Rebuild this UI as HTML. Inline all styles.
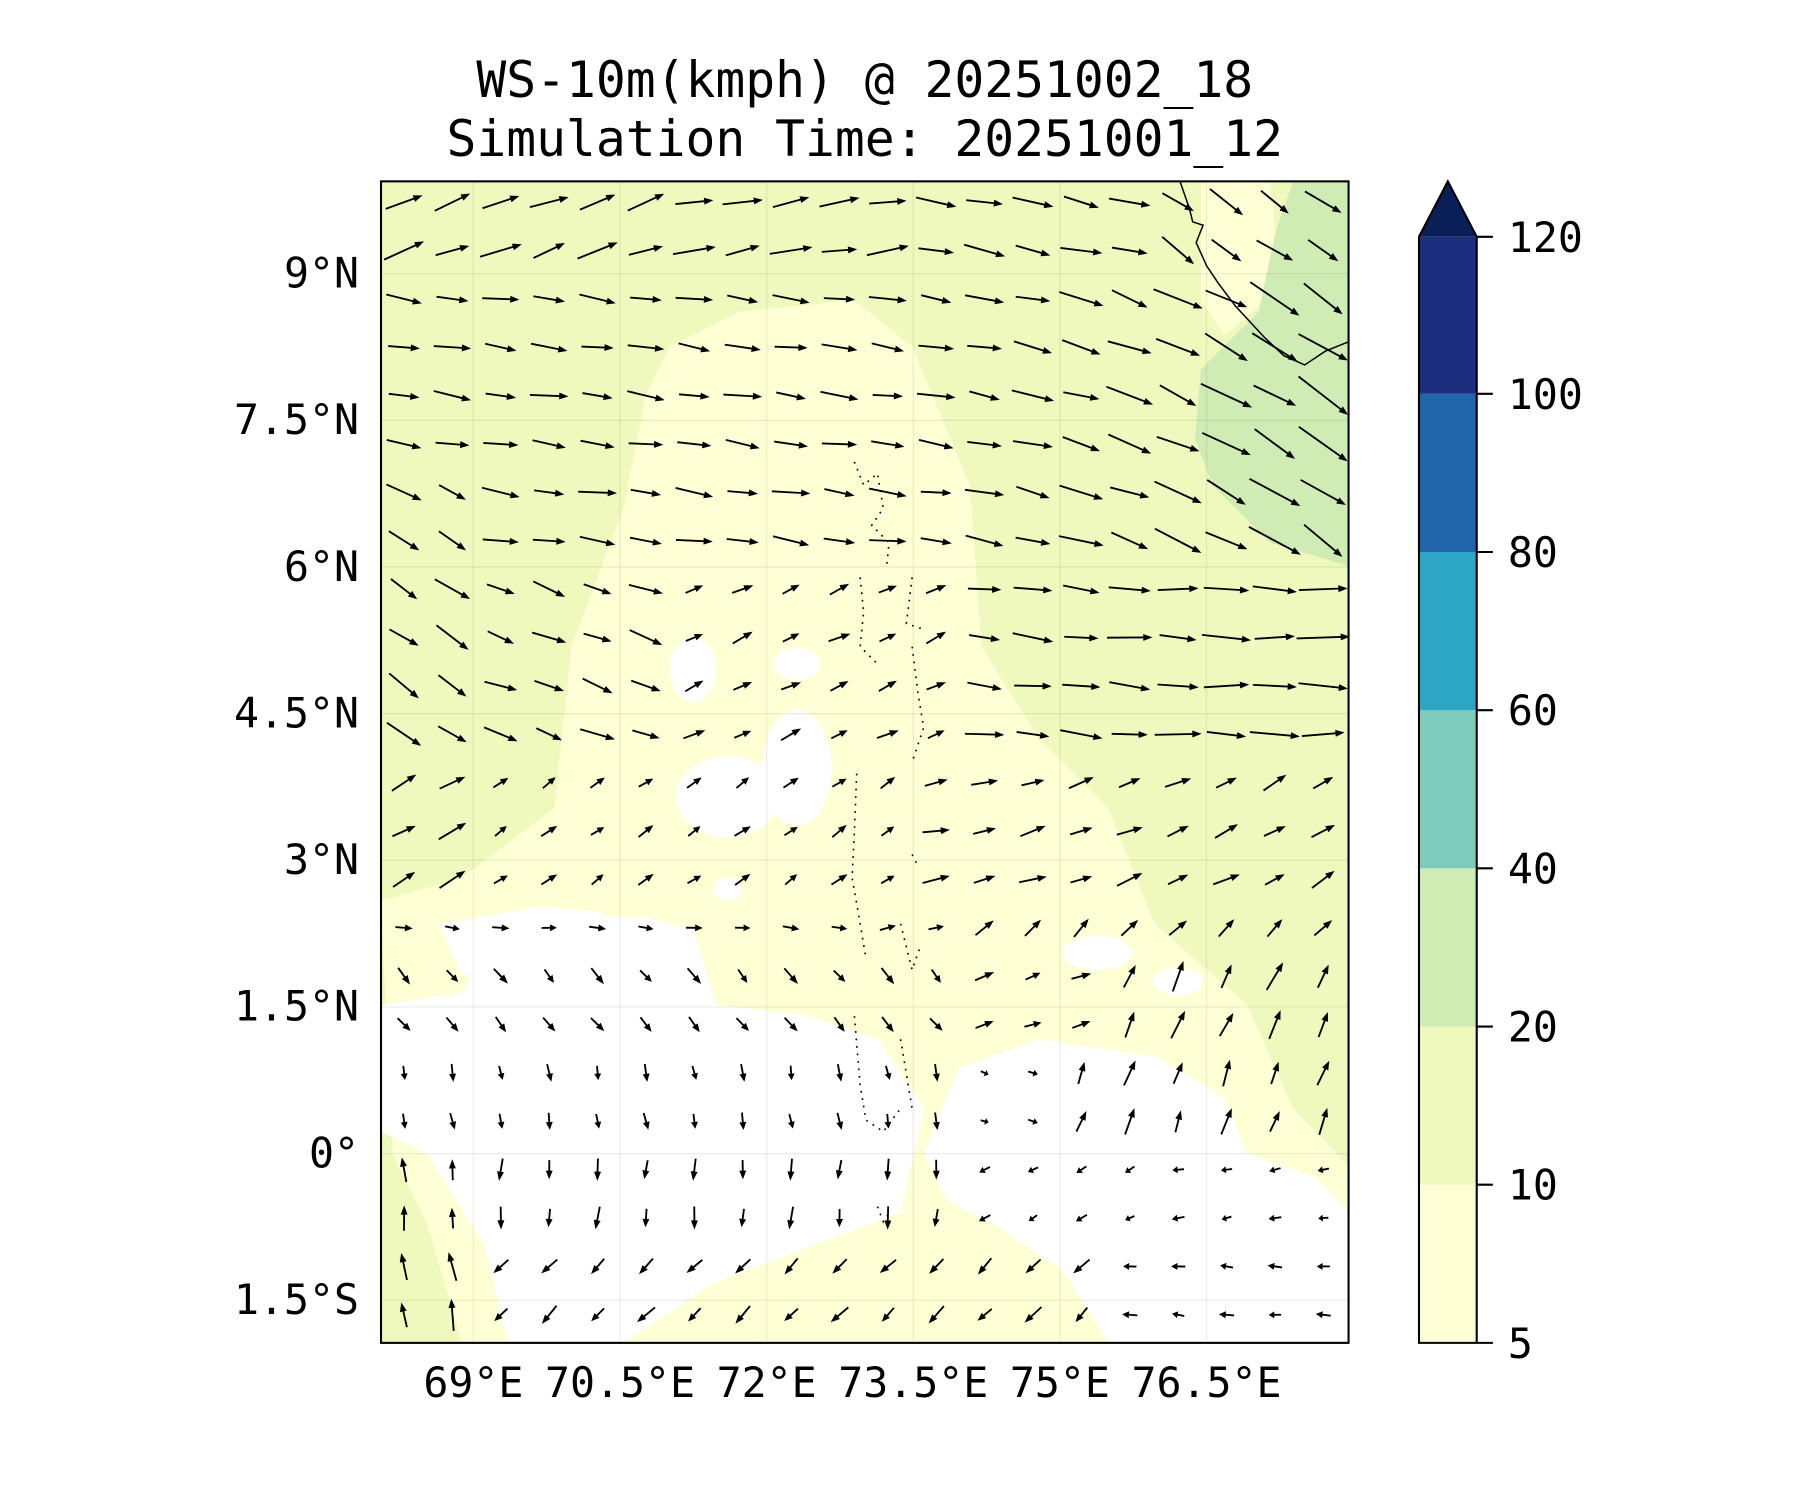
<!DOCTYPE html>
<html><head><meta charset="utf-8"><style>
html,body{margin:0;padding:0;background:#fff;}
svg{display:block;}
text{font-family:"DejaVu Sans Mono","Liberation Mono",monospace;fill:#000;}
</style></head><body>
<svg id="fig" width="1800" height="1500" viewBox="0 0 1559 1299" xmlns="http://www.w3.org/2000/svg">
<defs><clipPath id="pc"><rect x="330" y="157" width="838" height="1006"/></clipPath></defs>
<text x="749" y="84" font-size="43" text-anchor="middle">WS-10m(kmph) @ 20251002_18</text>
<text x="749" y="135" font-size="43" text-anchor="middle">Simulation Time: 20251001_12</text>
<g clip-path="url(#pc)">
<rect x="330" y="157" width="838" height="1006" fill="#eff9bd"/>
<path fill="#ffffd5" d="M580,300 L640,270 L740,260 L790,300 L840,420 L850,560 L900,640 L960,700 L1000,800 L1080,870 L1120,960 L1168,1010 L1168,1163 L400,1163 L370,1060 L340,1000 L330,780 L400,760 L480,700 L495,560 L540,440 L560,340 Z"/>
<path fill="#ffffd5" d="M1040,157 L1100,157 L1110,250 L1060,290 L1040,260 Z"/>
<path fill="#d0ecb5" d="M1120,157 L1168,157 L1168,490 L1100,470 L1050,420 L1035,380 L1040,320 L1090,270 L1105,200 Z"/>
<path fill="#fff" d="M330,870 L400,860 L430,800 L480,790 L560,795 L600,805 L620,870 L700,880 L760,900 L800,960 L780,1050 L700,1080 L620,1110 L540,1163 L440,1163 L420,1080 L370,1000 L330,980 Z"/>
<path fill="#fff" d="M800,1000 L830,925 L900,900 L1000,915 L1060,950 L1080,1000 L1140,1020 L1168,1050 L1168,1163 L960,1163 L920,1100 L860,1060 L820,1040 Z"/>
<path fill="#fff" d="M380,800 L470,785 L520,790 L540,820 L480,840 L400,845 Z"/>
<ellipse cx="600" cy="580" rx="20" ry="28" fill="#fff"/>
<ellipse cx="630" cy="690" rx="45" ry="35" fill="#fff"/>
<ellipse cx="690" cy="665" rx="30" ry="50" fill="#fff"/>
<ellipse cx="690" cy="575" rx="20" ry="14" fill="#fff"/>
<ellipse cx="950" cy="825" rx="30" ry="15" fill="#fff"/>
<ellipse cx="1020" cy="850" rx="22" ry="12" fill="#fff"/>
<ellipse cx="630" cy="770" rx="12" ry="10" fill="#fff"/>
<g stroke="#000" stroke-opacity="0.08" stroke-width="1">
<line x1="410" y1="157" x2="410" y2="1163"/><line x1="537" y1="157" x2="537" y2="1163"/><line x1="664" y1="157" x2="664" y2="1163"/><line x1="791" y1="157" x2="791" y2="1163"/><line x1="918" y1="157" x2="918" y2="1163"/><line x1="1045" y1="157" x2="1045" y2="1163"/>
<line x1="330" y1="237" x2="1168" y2="237"/><line x1="330" y1="364" x2="1168" y2="364"/><line x1="330" y1="491" x2="1168" y2="491"/><line x1="330" y1="618" x2="1168" y2="618"/><line x1="330" y1="745" x2="1168" y2="745"/><line x1="330" y1="872" x2="1168" y2="872"/><line x1="330" y1="999" x2="1168" y2="999"/><line x1="330" y1="1126" x2="1168" y2="1126"/>
</g>
<path d="M1022,157 L1030,180 L1033,192 L1042,195 L1036,210 L1045,230 L1055,245 L1070,265 L1095,292 L1112,308 L1130,316 L1148,304 L1168,296" fill="none" stroke="#000" stroke-width="1.3"/>
<path d="M740,400 L748,420 L760,410 L765,440 L755,455 L770,470 L768,490 M745,500 L748,530 L745,560 L760,575 M790,500 L785,540 L800,545 M790,560 L795,600 L800,630 L790,660 M742,670 L740,720 L738,760 L745,800 L750,830 M790,740 L795,750 M780,800 L790,840 L797,820 M740,880 L745,940 L750,970 L765,980 L780,960 M780,900 L790,960 M760,1045 L765,1058 L772,1048" fill="none" stroke="#000" stroke-width="1.4" stroke-dasharray="1.5 5"/>
<g id="arrows" fill="#000"></g>
</g>
<rect x="330" y="157" width="838" height="1006" fill="none" stroke="#000" stroke-width="1.8"/>
<g font-size="36" text-anchor="end">
<text x="311" y="249">9°N</text><text x="311" y="376">7.5°N</text><text x="311" y="503">6°N</text><text x="311" y="630">4.5°N</text><text x="311" y="757">3°N</text><text x="311" y="884">1.5°N</text><text x="311" y="1011">0°</text><text x="311" y="1138">1.5°S</text>
</g>
<g font-size="36" text-anchor="middle">
<text x="410" y="1210">69°E</text><text x="537" y="1210">70.5°E</text><text x="664" y="1210">72°E</text><text x="791" y="1210">73.5°E</text><text x="918" y="1210">75°E</text><text x="1045" y="1210">76.5°E</text>
</g>
<rect x="1229" y="1026" width="50" height="137" fill="#ffffd5"/>
<rect x="1229" y="889" width="50" height="137" fill="#eff9bd"/>
<rect x="1229" y="752" width="50" height="137" fill="#d0ecb5"/>
<rect x="1229" y="615" width="50" height="137" fill="#7fcbbb"/>
<rect x="1229" y="478" width="50" height="137" fill="#2ca6c4"/>
<rect x="1229" y="341" width="50" height="137" fill="#2264aa"/>
<rect x="1229" y="205" width="50" height="136" fill="#1d2d7f"/>
<path d="M1229,205 L1254,157 L1279,205 Z" fill="#0a1f57"/>
<path d="M1229,1163 L1229,205 L1254,157 L1279,205 L1279,1163 Z" fill="none" stroke="#000" stroke-width="1.8"/>
<g stroke="#000" stroke-width="1.8">
<line x1="1279" y1="205" x2="1293" y2="205"/><line x1="1279" y1="341" x2="1293" y2="341"/><line x1="1279" y1="478" x2="1293" y2="478"/><line x1="1279" y1="615" x2="1293" y2="615"/><line x1="1279" y1="752" x2="1293" y2="752"/><line x1="1279" y1="889" x2="1293" y2="889"/><line x1="1279" y1="1026" x2="1293" y2="1026"/><line x1="1279" y1="1163" x2="1293" y2="1163"/>
</g>
<g font-size="36">
<text x="1306" y="218">120</text><text x="1306" y="354">100</text><text x="1306" y="491">80</text><text x="1306" y="628">60</text><text x="1306" y="765">40</text><text x="1306" y="902">20</text><text x="1306" y="1039">10</text><text x="1306" y="1176">5</text>
</g>
</svg>
<script>
(function(){
var g=document.getElementById('arrows');var s='';
function field(X,Y){
 var a,L;
 if(Y<0.1){a=X<0.3?20:(X<0.55?10:-12);L=34; if(X>0.8){a=-35;L=34;}}
 else if(Y<0.33){a=-8;L=30; if(X>0.6){a=-8-(X-0.6)*70;L=30+(X-0.6)*50;} if(X<0.1&&Y>0.25){a=-30;}}
 else if(Y<0.48){ if(X<0.1){a=-35;L=32;} else if(X<0.3){a=-20;L=28;} else if(X<0.6){a=25;L=18;} else {a=-8+(X-0.6)*20;L=30+(X-0.6)*30;}}
 else if(Y<0.62){ if(X<0.1){a=30;L=25;} else if(X<0.55){a=35;L=15;} else {a=10+(X-0.55)*50;L=22;}}
 else if(Y<0.68){ if(X<0.5){a=-5;L=14;} else if(X<0.6){a=10;L=14;} else {a=45;L=20;}}
 else if(Y<0.75){ if(X<0.6){a=-50;L=16;} else if(X<0.75){a=20;L=16;} else {a=65;L=25;}}
 else if(Y<0.85){ if(X<0.6){a=-80;L=14;} else if(X<0.7){a=-20;L=8;} else {a=70;L=22;}}
 else if(Y<0.92){ if(X<0.1){a=95;L=20;} else if(X<0.6){a=-95;L=18;} else if(X<0.8){a=-150;L=10;} else {a=-170;L=10;}}
 else { if(X<0.1){a=100;L=25;} else if(X<0.75){a=-135;L=18;} else {a=175;L=12;}}
 return [a,L];
}
for(var j=0;j<25;j++){for(var i=0;i<20;i++){
 var cx=350+i*41.9, cy=175+j*41.9;
 var X=(cx-330)/838, Y=(cy-157)/1006;
 var f=field(X,Y); var a=f[0]+Math.sin(i*1.7+j*2.3)*6; var L=f[1]*(1+0.12*Math.sin(i*3.1+j*1.3));
 var h=Math.min(8,L*0.45), w=3;
 s+='<g transform="translate('+cx.toFixed(1)+','+cy.toFixed(1)+') rotate('+(-a).toFixed(1)+')"><polygon points="'+
 (-L/2).toFixed(1)+',-0.8 '+(L/2-h).toFixed(1)+',-0.8 '+(L/2-h).toFixed(1)+',-'+w+' '+(L/2).toFixed(1)+',0 '+(L/2-h).toFixed(1)+','+w+' '+(L/2-h).toFixed(1)+',0.8 '+(-L/2).toFixed(1)+',0.8"/></g>';
}}
g.innerHTML=s;
})();
</script>
</body></html>
